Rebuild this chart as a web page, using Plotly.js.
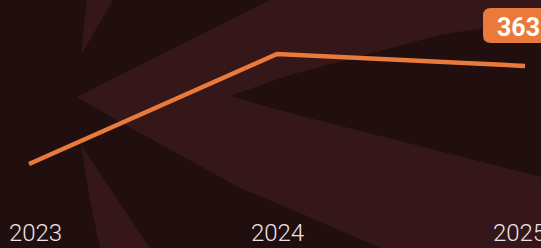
<!DOCTYPE html>
<html>
<head>
<meta charset="utf-8">
<script src="https://cdn.plot.ly/plotly-3.0.1.min.js"></script>
<style>html,body{margin:0;padding:0;background:#210e0e;}#chart{width:541px;height:248px;}</style>
</head>
<body>
<div id="chart"></div>
<script>
// ---- data ----
const years = [2023, 2024, 2025];
const values = [265, 375, 363];
const tickLabels = ["2023", "2024", "2025"];

// ---- style ----
const W = 541, H = 248, MB = 32;
const PH = H - MB; // plot-area height in px
const BG = "#210e0e";
const RAY = "#351619";
const ORANGE = "#e97a3b";

function px(x) { return (x / W).toFixed(4); }
function py(y) { return (1 - y / PH).toFixed(4); }
function P(pts) { // pixel points -> paper path
  return "M " + pts.map(p => px(p[0]) + "," + py(p[1])).join(" L ") + " Z";
}
function rayShape(pts, color) {
  return {type: "path", xref: "paper", yref: "paper", layer: "below",
          path: P(pts), fillcolor: color, line: {width: 0}};
}

const shapes = [
  rayShape([[77,97],[110,80],[270,0],[541,0],[541,248],[380,248],[300,213],[240,188],[120,122]], RAY),
  rayShape([[230,96],[290,75],[440,35],[541,19],[541,177],[290,113]], BG),
  rayShape([[87,0],[113,0],[81,55],[84,25]], RAY),
  rayShape([[81,145],[150,248],[100,248],[90,200]], RAY),
  {type: "path", xref: "paper", yref: "paper", layer: "above", line: {width: 0}, fillcolor: ORANGE,
   path: "M " + px(491) + "," + py(8) + " L " + px(560) + "," + py(8) + " L " + px(560) + "," + py(43) +
         " L " + px(491) + "," + py(43) + " Q " + px(483) + "," + py(43) + " " + px(483) + "," + py(35) +
         " L " + px(483) + "," + py(16) + " Q " + px(483) + "," + py(8) + " " + px(491) + "," + py(8) + " Z"}
];

const lastIdx = years.length - 1;

const data = [
  {x: years, y: values, type: "scatter", mode: "lines", xaxis: "x", yaxis: "y",
   line: {color: ORANGE, width: 4.5}, hoverinfo: "skip", showlegend: false},
  {x: years, y: values, type: "scatter", mode: "lines", xaxis: "x2", yaxis: "y",
   line: {color: "rgba(0,0,0,0)", width: 0}, hoverinfo: "skip", showlegend: false}
];

const layout = {
  width: W, height: H,
  margin: {l: 0, r: 0, t: 0, b: MB, pad: 0},
  paper_bgcolor: BG, plot_bgcolor: "rgba(0,0,0,0)",
  showlegend: false,
  xaxis: {range: [2022.883, 2025.0645], visible: false, fixedrange: true},
  xaxis2: {range: [2022.8533, 2025.0888], overlaying: "x", side: "bottom",
           tickvals: years, ticktext: tickLabels, automargin: false, ticklabeloverflow: "allow",
           showgrid: false, zeroline: false, showline: false, ticks: "",
           tickfont: {family: "Roboto", size: 24, color: "#ece4e4", weight: 300}},
  yaxis: {range: [429 - PH, 429], visible: false, fixedrange: true},
  shapes: shapes,
  annotations: [{
    x: years[lastIdx], y: values[lastIdx], xref: "x", yref: "y",
    text: "<b>" + values[lastIdx] + "</b>", showarrow: false,
    xanchor: "center", yanchor: "middle", xshift: -7, yshift: 38.5,
    font: {family: "Roboto", size: 25, color: "#ffffff"}
  }]
};

Plotly.newPlot("chart", data, layout, {displayModeBar: false, staticPlot: true});
</script>
</body>
</html>
